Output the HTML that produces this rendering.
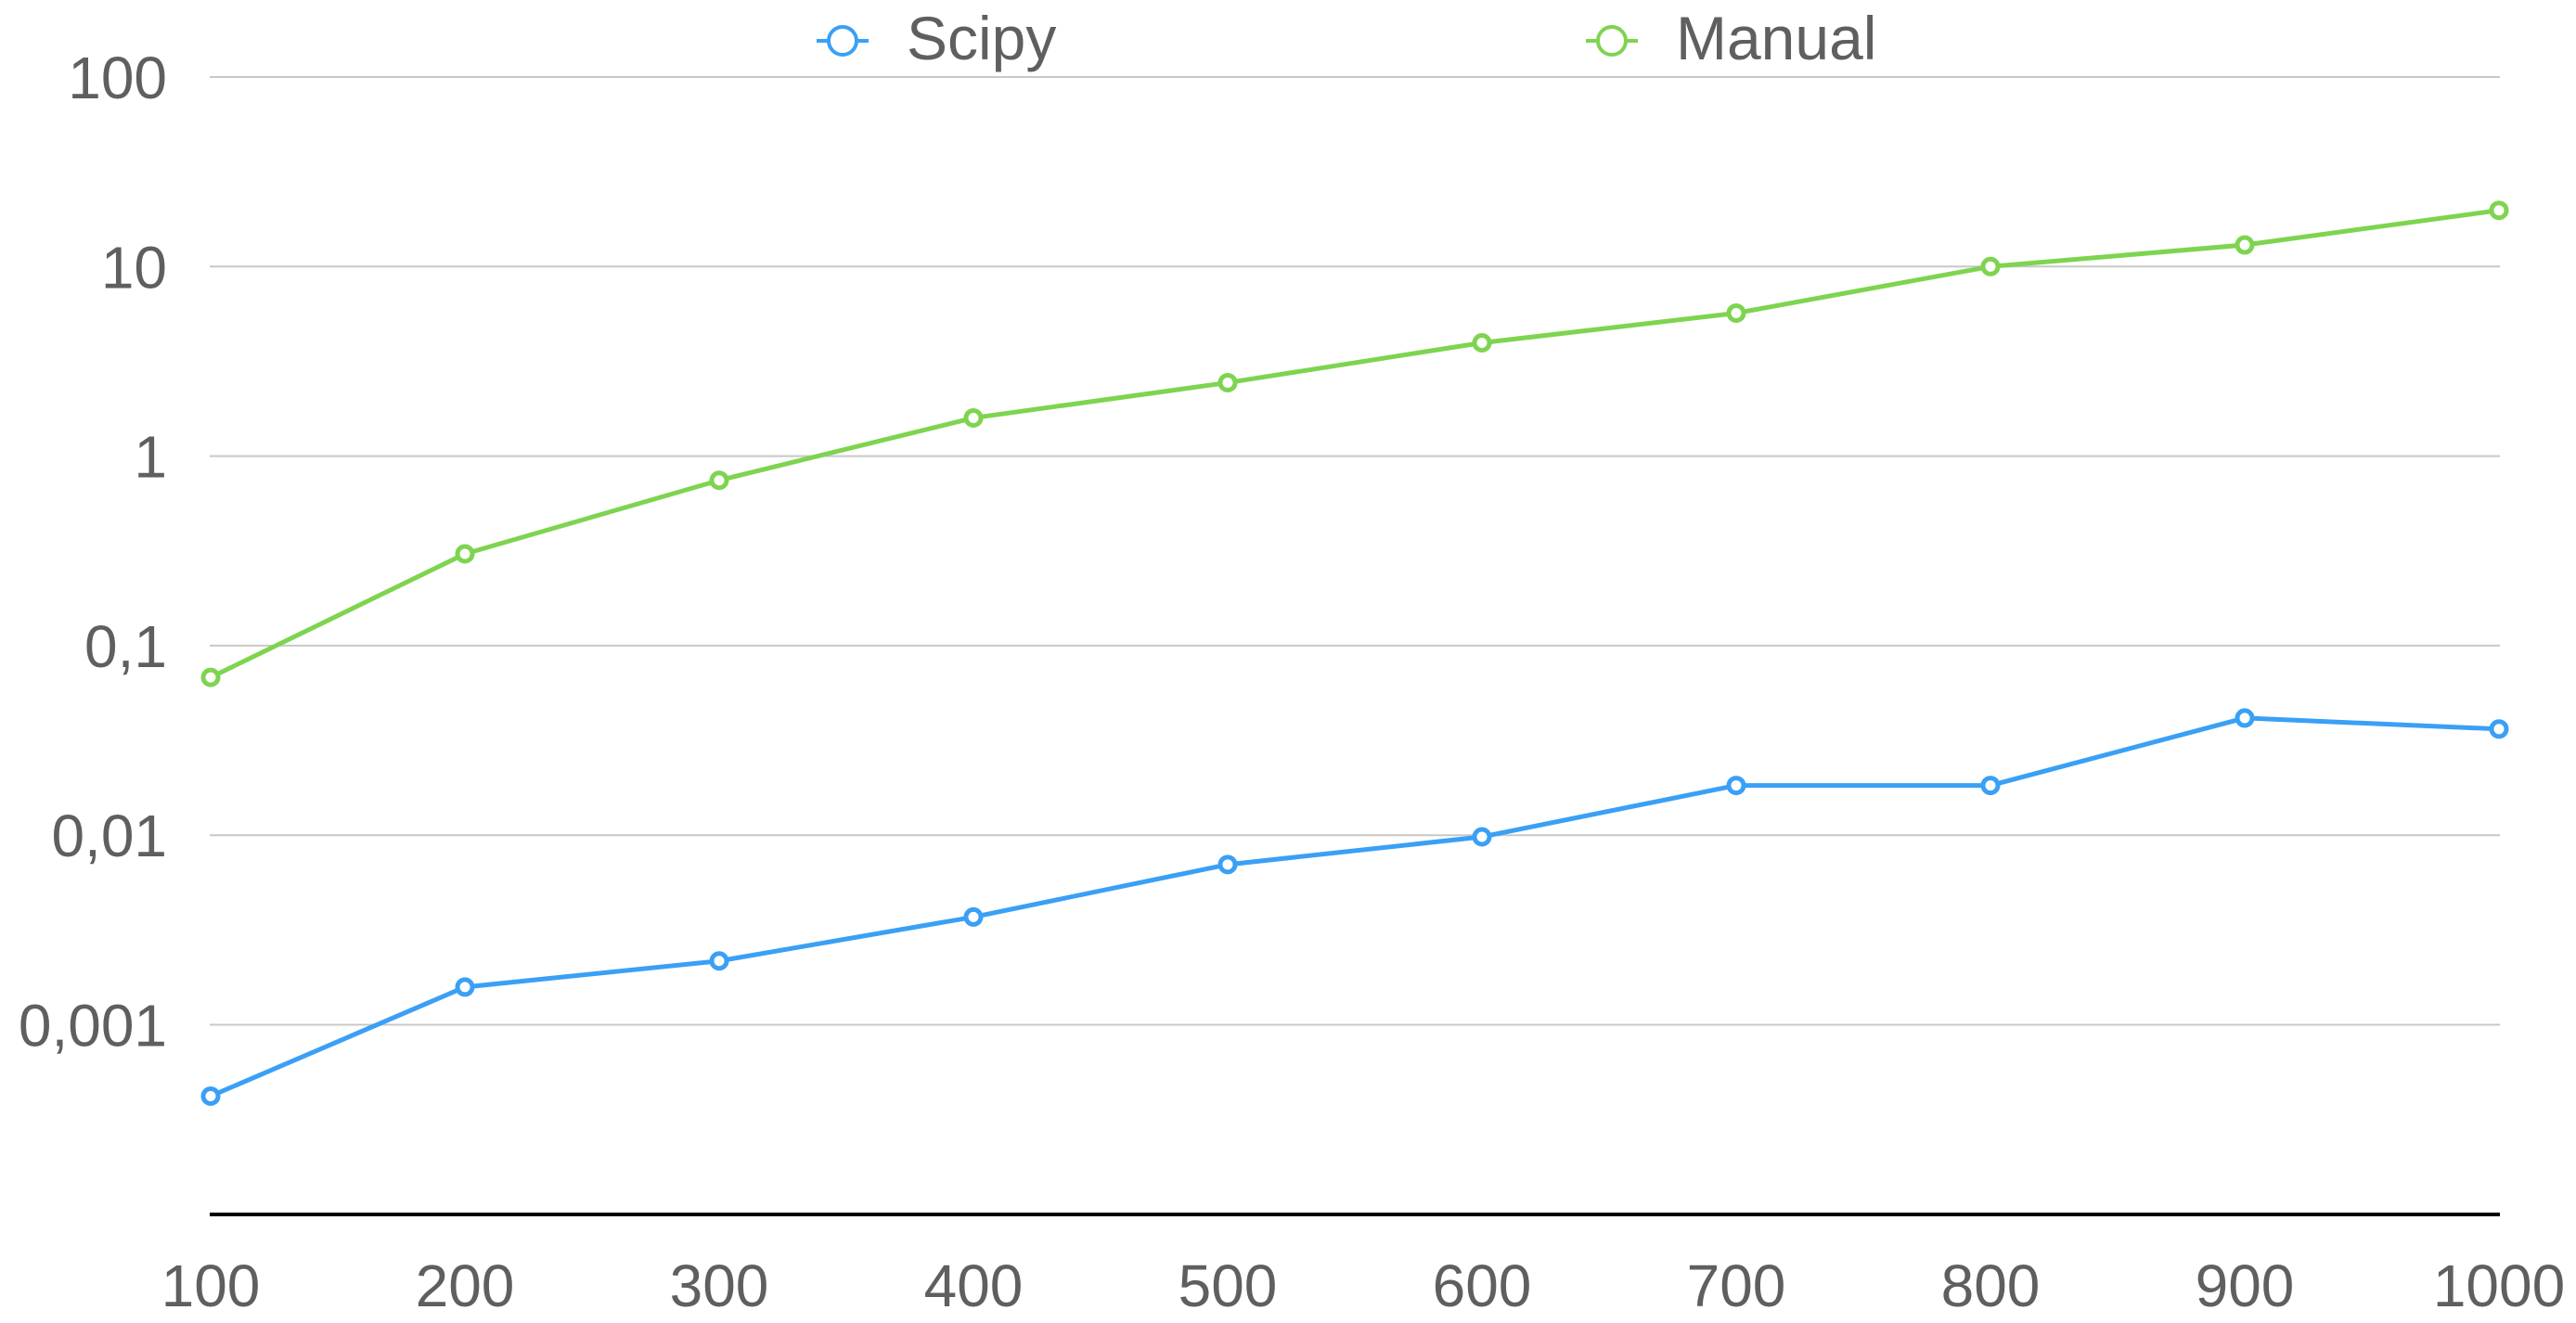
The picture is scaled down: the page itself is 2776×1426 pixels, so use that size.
<!DOCTYPE html>
<html><head><meta charset="utf-8"><style>
html,body{margin:0;padding:0;background:#fff;}
svg{display:block;font-family:"Liberation Sans",Arial,sans-serif;}
</style></head><body>
<svg id="chart" width="2776" height="1426" viewBox="0 0 2776 1426" xmlns="http://www.w3.org/2000/svg">
<g id="grid"></g>
<g id="ylabels"></g>
<g id="xlabels"></g>
<line x1="226" y1="1309" x2="2694" y2="1309" stroke="#000" stroke-width="4"/>
<g id="series"></g>
<g>
  <g>
    <line x1="880" y1="44" x2="936" y2="44" stroke="#3aa0f5" stroke-width="4"/>
    <circle cx="908" cy="44" r="15" fill="#fff" stroke="#3aa0f5" stroke-width="4"/>
    <text x="977" y="64" font-size="66" fill="#5f5f5f">Scipy</text>
  </g>
  <g>
    <line x1="1709" y1="44" x2="1765" y2="44" stroke="#7ed44f" stroke-width="4"/>
    <circle cx="1737" cy="44" r="15" fill="#fff" stroke="#7ed44f" stroke-width="4"/>
    <text x="1806" y="64" font-size="66" fill="#5f5f5f">Manual</text>
  </g>
</g>
</svg>
<script>
const categories = [100,200,300,400,500,600,700,800,900,1000];
const scipyValues = [0.00042,0.00158,0.00217,0.0037,0.0070,0.0098,0.0183,0.0183,0.0415,0.0363];
const manualValues = [0.068,0.305,0.745,1.59,2.44,3.96,5.68,10,13.0,19.8];
const yTickValues = [100,10,1,0.1,0.01,0.001];
const yTickLabels = ["100","10","1","0,1","0,01","0,001"];

const NS = "http://www.w3.org/2000/svg";
const X0 = 227, X1 = 2693, YTOP = 83, DEC = 204.3;
function xScale(c){ return X0 + (c - categories[0]) / (categories[categories.length-1] - categories[0]) * (X1 - X0); }
function yScale(v){ return YTOP + (2 - Math.log10(v)) * DEC; }
function mk(tag, attrs, parent){ const e = document.createElementNS(NS, tag); for (const k in attrs) e.setAttribute(k, attrs[k]); parent.appendChild(e); return e; }

const grid = document.getElementById('grid');
const yl = document.getElementById('ylabels');
yTickValues.forEach((v,i)=>{
  const y = yScale(v);
  const gl = mk('line', {x1:226, x2:2694, y1:y, y2:y, stroke:'#c8c8c8', 'stroke-width':2}, grid);
  
  
  const t = mk('text', {x:180, y:y+23, 'text-anchor':'end', 'font-size':64, fill:'#5f5f5f'}, yl);
  t.textContent = yTickLabels[i];
  
  
});
const xl = document.getElementById('xlabels');
categories.forEach(c=>{
  const t = mk('text', {x:xScale(c), y:1408, 'text-anchor':'middle', 'font-size':64, fill:'#5f5f5f'}, xl);
  t.textContent = String(c);
  
  
});
const sg = document.getElementById('series');
function drawSeries(vals, color, name){
  const g = mk('g', {}, sg);
  
  
  const pts = vals.map((v,i)=> xScale(categories[i]) + ',' + yScale(v)).join(' ');
  const pl = mk('polyline', {points:pts, fill:'none', stroke:color, 'stroke-width':5, 'stroke-linejoin':'round'}, g);
  
  
  vals.forEach((v,i)=>{
    const c = mk('circle', {cx:xScale(categories[i]), cy:yScale(v), r:8, fill:'#fff', stroke:color, 'stroke-width':5}, g);
    
    
  });
}
drawSeries(manualValues, '#7ed44f', 'manual');
drawSeries(scipyValues, '#3aa0f5', 'scipy');
</script>
</body></html>
